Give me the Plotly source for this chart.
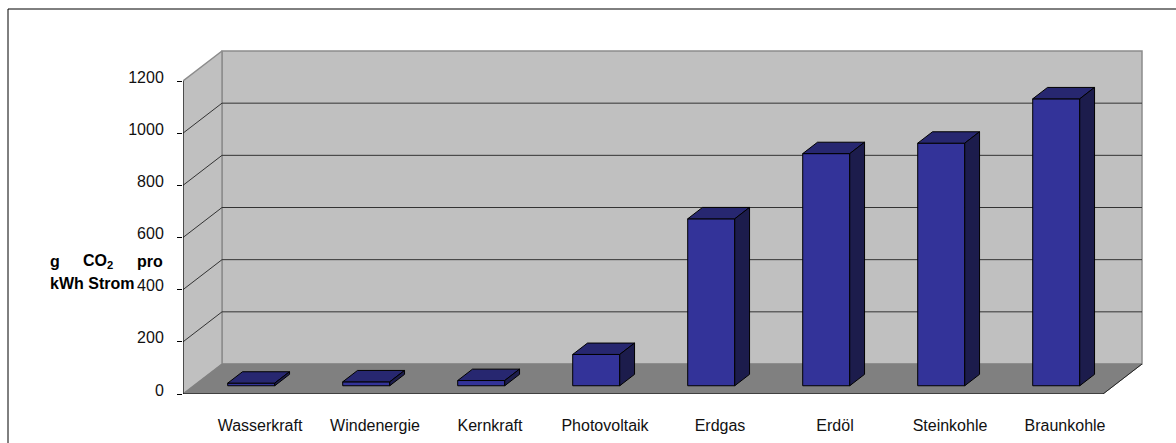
import plotly.graph_objects as go

# CO2 emissions per kWh of electricity, by energy source
categories = ["Wasserkraft", "Windenergie", "Kernkraft", "Photovoltaik",
              "Erdgas", "Erdöl", "Steinkohle", "Braunkohle"]
values = [10, 15, 20, 120, 640, 890, 930, 1100]
y_ticks = [0, 200, 400, 600, 800, 1000, 1200]

W, H = 1176, 443
ML, MR, MT, MB = 183, 24, 40, 49
PX_PER_CAT = 115.0            # pixels per category
PX_PER_VAL = 313.0 / 1200.0   # pixels per value unit

plot_w = W - ML - MR
plot_h = H - MT - MB
x_max = plot_w / PX_PER_CAT
y_max = plot_h / PX_PER_VAL

# oblique projection of the depth axis (d = 0 front, d = 1 back wall)
DX = 39.0 / PX_PER_CAT
DY = 30.0 / PX_PER_VAL
N = len(categories)
V_TOP = y_ticks[-1]


def proj(u, d, v):
    return u + d * DX, v + d * DY


def poly(points, fill, line_color="black", width=1.0):
    xs, ys = zip(*[proj(*p) for p in points])
    xs = list(xs) + [xs[0]]
    ys = list(ys) + [ys[0]]
    return go.Scatter(x=xs, y=ys, mode="lines", fill="toself", fillcolor=fill,
                      line=dict(color=line_color, width=width),
                      hoverinfo="skip", showlegend=False)


def px_x(p):
    return (p - ML) / plot_w


def px_y(p):
    return (H - MB - p) / plot_h


fig = go.Figure()

WALL = "#c0c0c0"
FLOOR = "#808080"
EDGE = "#8c8c8c"

# back wall
fig.add_trace(poly([(0, 1, 0), (N, 1, 0), (N, 1, V_TOP), (0, 1, V_TOP)], WALL, EDGE, 1.5))
# side wall
fig.add_trace(poly([(0, 0, 0), (0, 1, 0), (0, 1, V_TOP), (0, 0, V_TOP)], WALL, EDGE, 1.5))
# floor
fig.add_trace(poly([(0, 0, 0), (N, 0, 0), (N, 1, 0), (0, 1, 0)], FLOOR, FLOOR, 1.0))

# gridlines on side and back wall
gx, gy = [], []
for v in y_ticks[1:-1]:
    for p in [(0, 0, v), (0, 1, v), (N, 1, v)]:
        x, y = proj(*p)
        gx.append(x)
        gy.append(y)
    gx.append(None)
    gy.append(None)
fig.add_trace(go.Scatter(x=gx, y=gy, mode="lines", line=dict(color="#333333", width=1),
                         hoverinfo="skip", showlegend=False))

# right front edge of the floor
ex, ey = zip(proj(N, 0, 0), proj(N, 1, 0))
fig.add_trace(go.Scatter(x=list(ex), y=list(ey), mode="lines", line=dict(color="#222222", width=1),
                         hoverinfo="skip", showlegend=False))

# 3D bars
BAR_FRONT = "#333399"
BAR_TOP = "#272770"
BAR_SIDE = "#1c1c4c"
HALF_W = 0.2045
D0, D1 = 0.275, 0.655
for i, h in enumerate(values):
    c = i + 0.5
    l, r = c - HALF_W, c + HALF_W
    fig.add_trace(poly([(l, D0, 0), (r, D0, 0), (r, D0, h), (l, D0, h)], BAR_FRONT))
    fig.add_trace(poly([(l, D0, h), (r, D0, h), (r, D1, h), (l, D1, h)], BAR_TOP))
    fig.add_trace(poly([(r, D0, 0), (r, D1, 0), (r, D1, h), (r, D0, h)], BAR_SIDE))

shapes = []
# axis lines
shapes.append(dict(type="line", xref="x", yref="y", x0=0, y0=0, x1=0, y1=V_TOP,
                   line=dict(color="black", width=1)))
shapes.append(dict(type="line", xref="x", yref="y", x0=0, y0=0, x1=N, y1=0,
                   line=dict(color="black", width=1)))
# category boundary ticks on the x axis
for i in range(N + 1):
    shapes.append(dict(type="line", xref="x", yref="y", ysizemode="pixel", yanchor=0,
                       x0=i, x1=i, y0=0, y1=-6, line=dict(color="black", width=1)))
# chart frame
shapes.append(dict(type="line", xref="paper", yref="paper", x0=px_x(8), x1=px_x(W + 5),
                   y0=px_y(9), y1=px_y(9), line=dict(color="black", width=1)))
shapes.append(dict(type="line", xref="paper", yref="paper", x0=px_x(8), x1=px_x(8),
                   y0=px_y(9), y1=px_y(H + 5), line=dict(color="black", width=1)))

FONT = "Liberation Sans, Arial, sans-serif"
annotations = []
# axis title, laid out as two justified lines
for text, left, mid in [("g", 48, 261), ("CO<sub>2</sub>", 81, 261), ("pro", 135, 261),
                        ("kWh Strom", 48, 283)]:
    annotations.append(dict(text="<b>" + text + "</b>", xref="paper", yref="paper",
                            x=px_x(left), y=px_y(mid), xanchor="left", yanchor="middle",
                            showarrow=False, font=dict(family=FONT, size=16, color="black")))

label_pos = [i + 0.5 + 0.5 * DX for i in range(N)]

fig.update_layout(
    width=W, height=H,
    margin=dict(l=ML, r=MR, t=MT, b=MB, pad=0, autoexpand=False),
    paper_bgcolor="white", plot_bgcolor="white",
    shapes=shapes, annotations=annotations,
    font=dict(family=FONT, size=16, color="black"),
    xaxis=dict(range=[0, x_max], showgrid=False, zeroline=False, showline=False,
               automargin=False,
               tickmode="array", tickvals=label_pos, ticktext=categories,
               ticks="", ticklabelstandoff=20, fixedrange=True,
               tickfont=dict(family=FONT, size=16, color="#111111")),
    yaxis=dict(range=[0, y_max], showgrid=False, zeroline=False, showline=False,
               automargin=False,
               tickmode="array", tickvals=y_ticks, ticks="outside", ticklen=5,
               tickcolor="black", tickwidth=1, ticklabelstandoff=10, ticklabelshift=-4,
               fixedrange=True, tickfont=dict(family=FONT, size=16, color="#111111")),
)

fig.write_html("out.html", config={"displayModeBar": False})
